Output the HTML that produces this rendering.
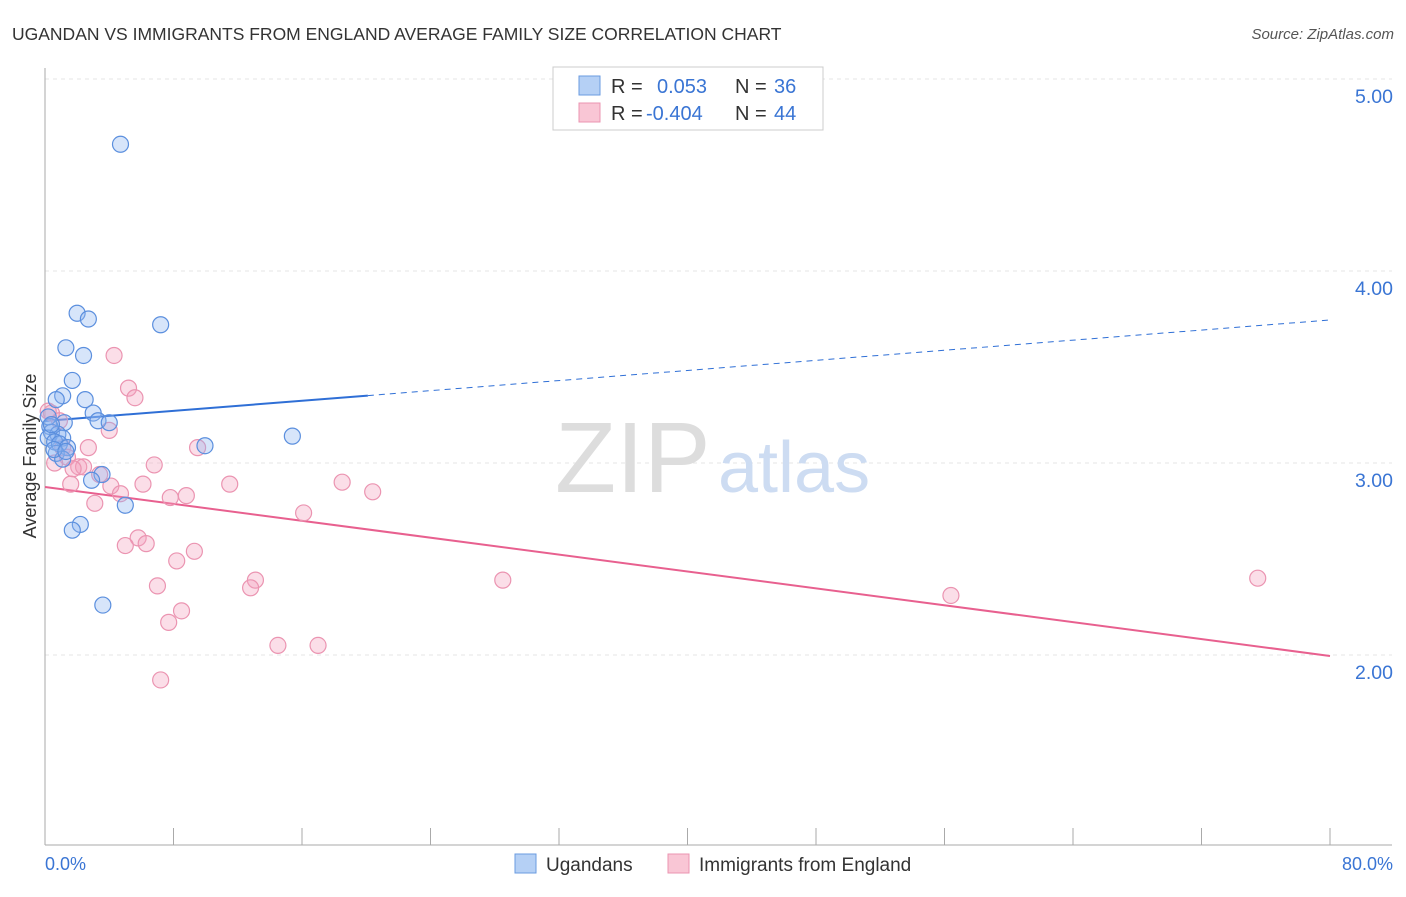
<!DOCTYPE html>
<html><head><meta charset="utf-8"><style>
body{margin:0;background:#fff;font-family:"Liberation Sans",sans-serif;}
svg text{font-family:"Liberation Sans",sans-serif;}
</style></head><body>
<svg id="chart" width="1406" height="892">
<text x="12" y="40" font-size="17.5" fill="#333">UGANDAN VS IMMIGRANTS FROM ENGLAND AVERAGE FAMILY SIZE CORRELATION CHART</text>
<text x="1394" y="39" font-size="15" fill="#555" text-anchor="end" font-style="italic">Source: ZipAtlas.com</text>
<text x="36" y="456" font-size="18" fill="#333" text-anchor="middle" transform="rotate(-90 36 456)">Average Family Size</text>
<g id="grid"></g>
<text x="555" y="492" font-size="100" fill="#ddd" font-family="Liberation Serif">ZIP</text>
<text x="718" y="492" font-size="72" fill="#cddcf2">atlas</text>
<line x1="45" y1="68" x2="45" y2="845" stroke="#aaa"/>
<line x1="45" y1="845" x2="1392" y2="845" stroke="#aaa"/>
<g id="ticks"></g>
<g id="lines"></g>
<g id="points"></g>
<text x="45" y="870" font-size="18" fill="#3a75d4">0.0%</text>
<text x="1393" y="870" font-size="18" fill="#3a75d4" text-anchor="end">80.0%</text>
<g>
<rect x="553" y="67" width="270" height="63" fill="#fff" stroke="#ccc"/>
<rect x="579" y="76" width="21" height="19" fill="#b5d0f5" stroke="#6a9be0"/>
<rect x="579" y="103" width="21" height="19" fill="#f9c6d5" stroke="#eb94b1"/>
<text x="611" y="93" font-size="20" fill="#333">R = <tspan fill="#3a75d4" x="657">0.053</tspan><tspan x="735" fill="#333">N = </tspan><tspan fill="#3a75d4" x="774">36</tspan></text>
<text x="611" y="120" font-size="20" fill="#333">R = <tspan fill="#3a75d4" x="646">-0.404</tspan><tspan x="735" fill="#333">N = </tspan><tspan fill="#3a75d4" x="774">44</tspan></text>
</g>
<g>
<rect x="515" y="854" width="21" height="19" fill="#b5d0f5" stroke="#6a9be0"/>
<text x="546" y="871" font-size="19" fill="#333">Ugandans</text>
<rect x="668" y="854" width="21" height="19" fill="#f9c6d5" stroke="#eb94b1"/>
<text x="699" y="871" font-size="19" fill="#333">Immigrants from England</text>
</g>
</svg>
<script>
const yTicks=[2,3,4,5];
const yTickLabels=["2.00","3.00","4.00","5.00"];
const ugX=[4.7,2.0,2.7,7.2,1.3,2.4,1.7,1.1,0.7,2.5,3.0,3.3,4.0,1.2,0.3,0.4,0.8,1.1,0.2,0.6,0.9,1.4,0.7,1.1,9.96,15.4,3.55,2.9,5.0,2.2,1.7,3.6,0.2,0.4,0.56,1.3];
const ugY=[4.66,3.78,3.75,3.72,3.60,3.56,3.43,3.35,3.33,3.33,3.26,3.22,3.21,3.21,3.19,3.16,3.15,3.13,3.13,3.11,3.10,3.08,3.05,3.02,3.09,3.14,2.94,2.91,2.78,2.68,2.65,2.26,3.24,3.20,3.07,3.06];
const enX=[4.3,5.2,5.6,0.4,0.9,4.0,2.7,9.5,1.1,1.4,0.6,2.1,2.4,6.8,1.75,3.4,1.6,4.1,6.1,11.5,18.5,20.4,4.7,7.8,8.8,3.1,16.1,5.8,5.0,6.3,9.3,8.2,7.0,13.1,12.8,28.5,8.5,7.7,14.5,17.0,7.2,56.4,75.5,0.2];
const enY=[3.56,3.39,3.34,3.26,3.22,3.17,3.08,3.08,3.08,3.03,3.00,2.98,2.98,2.99,2.97,2.94,2.89,2.88,2.89,2.89,2.90,2.85,2.84,2.82,2.83,2.79,2.74,2.61,2.57,2.58,2.54,2.49,2.36,2.39,2.35,2.39,2.23,2.17,2.05,2.05,1.87,2.31,2.40,3.27];
const ugTrend=[3.219,3.745];
const enTrend=[2.875,1.995];
const xs=v=>45+v*16.0625;
const ys=v=>79+(5-v)*192;
const NS="http://www.w3.org/2000/svg";
function mk(tag,attrs,parent){const e=document.createElementNS(NS,tag);for(const k in attrs)e.setAttribute(k,attrs[k]);parent.appendChild(e);return e;}
const grid=document.getElementById('grid');
yTicks.forEach((t,i)=>{
  const l=mk('line',{x1:45,x2:1392,y1:ys(t),y2:ys(t),stroke:'#e6e6e6','stroke-dasharray':'4,4','stroke-width':1},grid);
  
  
  const tx=mk('text',{x:1393,y:ys(t)+24,'font-size':19.5,fill:'#3a75d4','text-anchor':'end'},grid);
  tx.textContent=yTickLabels[i];
  
  
});
const ticks=document.getElementById('ticks');
for(let i=1;i<=10;i++){
  const l=mk('line',{x1:xs(i*8),x2:xs(i*8),y1:828,y2:845,stroke:'#aaa'},ticks);
  
  
}
const lines=document.getElementById('lines');
const ugAt=x=>ugTrend[0]+(ugTrend[1]-ugTrend[0])*x/80;
let l1=mk('line',{x1:xs(0),y1:ys(ugAt(0)),x2:xs(20.1),y2:ys(ugAt(20.1)),stroke:'#2f6fd6','stroke-width':2},lines);


let l2=mk('line',{x1:xs(20.1),y1:ys(ugAt(20.1)),x2:xs(80),y2:ys(ugAt(80)),stroke:'#2f6fd6','stroke-width':1,'stroke-dasharray':'6,5'},lines);


let l3=mk('line',{x1:xs(0),y1:ys(enTrend[0]),x2:xs(80),y2:ys(enTrend[1]),stroke:'#e8608f','stroke-width':2},lines);


const pts=document.getElementById('points');
enX.forEach((x,i)=>{
  const c=mk('circle',{cx:xs(x),cy:ys(enY[i]),r:8,fill:'rgba(244,160,188,0.35)',stroke:'#eb94b1','stroke-width':1.2},pts);
  
  
});
ugX.forEach((x,i)=>{
  const c=mk('circle',{cx:xs(x),cy:ys(ugY[i]),r:8,fill:'rgba(140,180,240,0.35)',stroke:'#5b8fde','stroke-width':1.2},pts);
  
  
});
</script>
</body></html>
